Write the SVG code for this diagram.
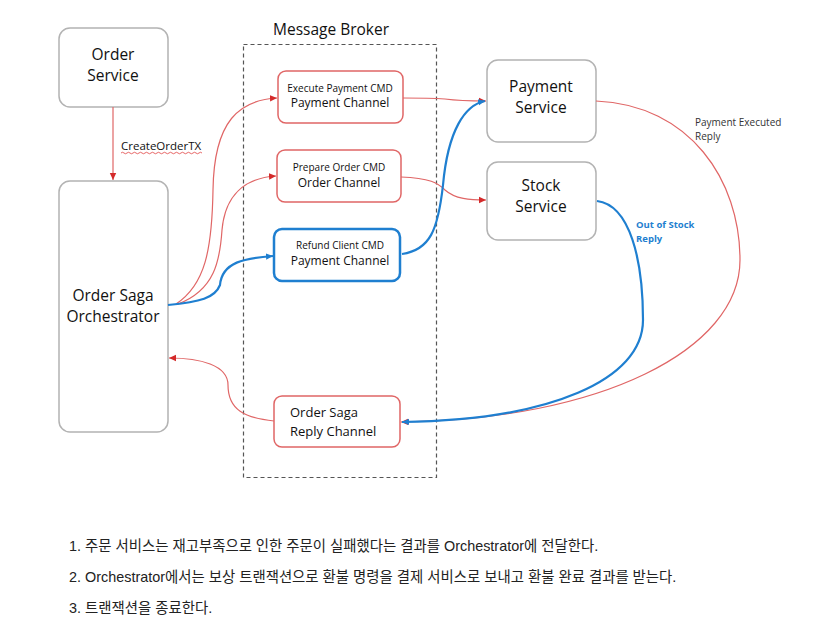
<svg xmlns="http://www.w3.org/2000/svg" width="831" height="637" viewBox="0 0 831 637">
<style>
.svc{fill:#fff;stroke:#b3b3b3;stroke-width:1.5}
.red{fill:#fff;stroke:#e06666;stroke-width:1.5}
.blue{fill:#fff;stroke:#1f7fd0;stroke-width:2.5}
.t{font-family:"Open Sans","Liberation Sans",sans-serif;fill:#111;text-anchor:middle}
.big{font-size:15.5px}
.mid{font-size:12px}
.sm{font-size:10px}
.cr{fill:none;stroke:#e06666;stroke-width:1.2}
.cb{fill:none;stroke:#1f7fd0;stroke-width:2.2}
.lbl{font-family:"Open Sans","Liberation Sans",sans-serif;font-size:10px;fill:#333}
.kr{font-family:"Liberation Sans","Noto Sans CJK KR",sans-serif;font-size:14.4px;fill:#222}
</style>
<defs>
<marker id="ar" markerWidth="8" markerHeight="8" refX="7" refY="4" orient="auto" markerUnits="userSpaceOnUse"><path d="M0,0.8 L7,4 L0,7.2z" fill="#d42a2a"/></marker>
<marker id="ab" markerWidth="8" markerHeight="8" refX="7" refY="4" orient="auto" markerUnits="userSpaceOnUse"><path d="M0,0.8 L7,4 L0,7.2z" fill="#1f7fd0"/></marker>
</defs>
<rect width="831" height="637" fill="#fff"/>
<g id="broker">
<rect x="243.5" y="44.5" width="193" height="433" fill="none" stroke="#555" stroke-width="1.2" stroke-dasharray="4,3"/>
<text class="t big" x="331" y="35">Message Broker</text>
</g>
<g id="order-service">
<rect class="svc" x="59" y="28" width="109" height="79" rx="11"/>
<text class="t big" x="113" y="60">Order</text>
<text class="t big" x="113" y="81">Service</text>
</g>
<g id="orchestrator">
<rect class="svc" x="59" y="181" width="109" height="251" rx="11"/>
<text class="t big" x="113" y="301">Order Saga</text>
<text class="t big" x="113" y="322">Orchestrator</text>
</g>
<g id="execute-payment">
<rect class="red" x="278" y="71" width="125" height="52" rx="8"/>
<text class="t sm" x="340" y="92">Execute Payment CMD</text>
<text class="t mid" x="340" y="107">Payment Channel</text>
</g>
<g id="prepare-order">
<rect class="red" x="277" y="150" width="124" height="52" rx="8"/>
<text class="t sm" x="339" y="171">Prepare Order CMD</text>
<text class="t mid" x="339" y="187">Order Channel</text>
</g>
<g id="refund-client">
<rect class="blue" x="274" y="229" width="126" height="52" rx="8"/>
<text class="t sm" x="340" y="249">Refund Client CMD</text>
<text class="t mid" x="340" y="265">Payment Channel</text>
</g>
<g id="reply-channel">
<rect class="red" x="274" y="396" width="126" height="51" rx="8"/>
<text class="t" x="290" y="417" style="text-anchor:start;font-size:13px">Order Saga</text>
<text class="t" x="290" y="436" style="text-anchor:start;font-size:13px">Reply Channel</text>
</g>
<g id="payment-service">
<rect class="svc" x="487" y="60" width="109" height="82" rx="11"/>
<text class="t big" x="541" y="92">Payment</text>
<text class="t big" x="541" y="113">Service</text>
</g>
<g id="stock-service">
<rect class="svc" x="487" y="162" width="109" height="78" rx="11"/>
<text class="t big" x="541" y="191">Stock</text>
<text class="t big" x="541" y="212">Service</text>
</g>
<g id="connectors">
<path class="cr" d="M113,107 L113,180" marker-end="url(#ar)"/>
<text x="121" y="150" style="font-family:'Open Sans','Liberation Sans',sans-serif;font-size:11.5px;fill:#111">CreateOrderTX</text>
<path d="M121,153 q1.5,-1.5 3,0 t3,0 t3,0 t3,0 t3,0 t3,0 t3,0 t3,0 t3,0 t3,0 t3,0 t3,0 t3,0 t3,0 t3,0 t3,0 t3,0 t3,0 t3,0 t3,0 t3,0 t3,0 t3,0 t3,0 t3,0 t3,0 t3,0" fill="none" stroke="#e04040" stroke-width="0.8"/>
<path class="cr" d="M176,304 C205,285 212,250 213,190 C214,120 240,100 277,98" marker-end="url(#ar)"/>
<path class="cr" d="M178,304 C215,290 220,260 222,230 C225,195 245,178 276,176" marker-end="url(#ar)"/>
<path class="cb" d="M168,305 C200,302 215,298 220,285 C222,262 245,258 273,256" marker-end="url(#ab)"/>
<path class="cr" d="M403,98 C420,98 430,98 445,99 C460,101 470,101 486,101" marker-end="url(#ar)"/>
<path class="cr" d="M401,177 C430,178 438,183 445,190 C455,199 470,200 486,200" marker-end="url(#ar)"/>
<path class="cb" d="M402,254 C430,250 438,230 443,185 C448,130 465,105 485,101" marker-end="url(#ab)"/>
<path class="cr" d="M596,101 C690,105 740,180 740,260 C740,350 600,420 401,422" marker-end="url(#ar)"/>
<text class="lbl" x="695" y="126">Payment Executed</text>
<text class="lbl" x="695" y="140">Reply</text>
<path class="cb" d="M597,201 C630,205 643,260 643,320 C643,380 550,420 402,422" marker-end="url(#ab)"/>
<text x="636" y="228" style="font-family:'Open Sans','Liberation Sans',sans-serif;font-size:9.5px;font-weight:bold;fill:#1f7fd0">Out of Stock</text>
<text x="636" y="242" style="font-family:'Open Sans','Liberation Sans',sans-serif;font-size:9.5px;font-weight:bold;fill:#1f7fd0">Reply</text>
<path class="cr" d="M274,421 C245,418 228,410 228,385 C228,365 200,358 169,358" marker-end="url(#ar)"/>
</g>
<g id="notes">
<text class="kr" x="69" y="551">1. 주문 서비스는 재고부족으로 인한 주문이 실패했다는 결과를 Orchestrator에 전달한다.</text>
<text class="kr" x="69" y="582">2. Orchestrator에서는 보상 트랜잭션으로 환불 명령을 결제 서비스로 보내고 환불 완료 결과를 받는다.</text>
<text class="kr" x="69" y="613">3. 트랜잭션을 종료한다.</text>
</g>
</svg>
